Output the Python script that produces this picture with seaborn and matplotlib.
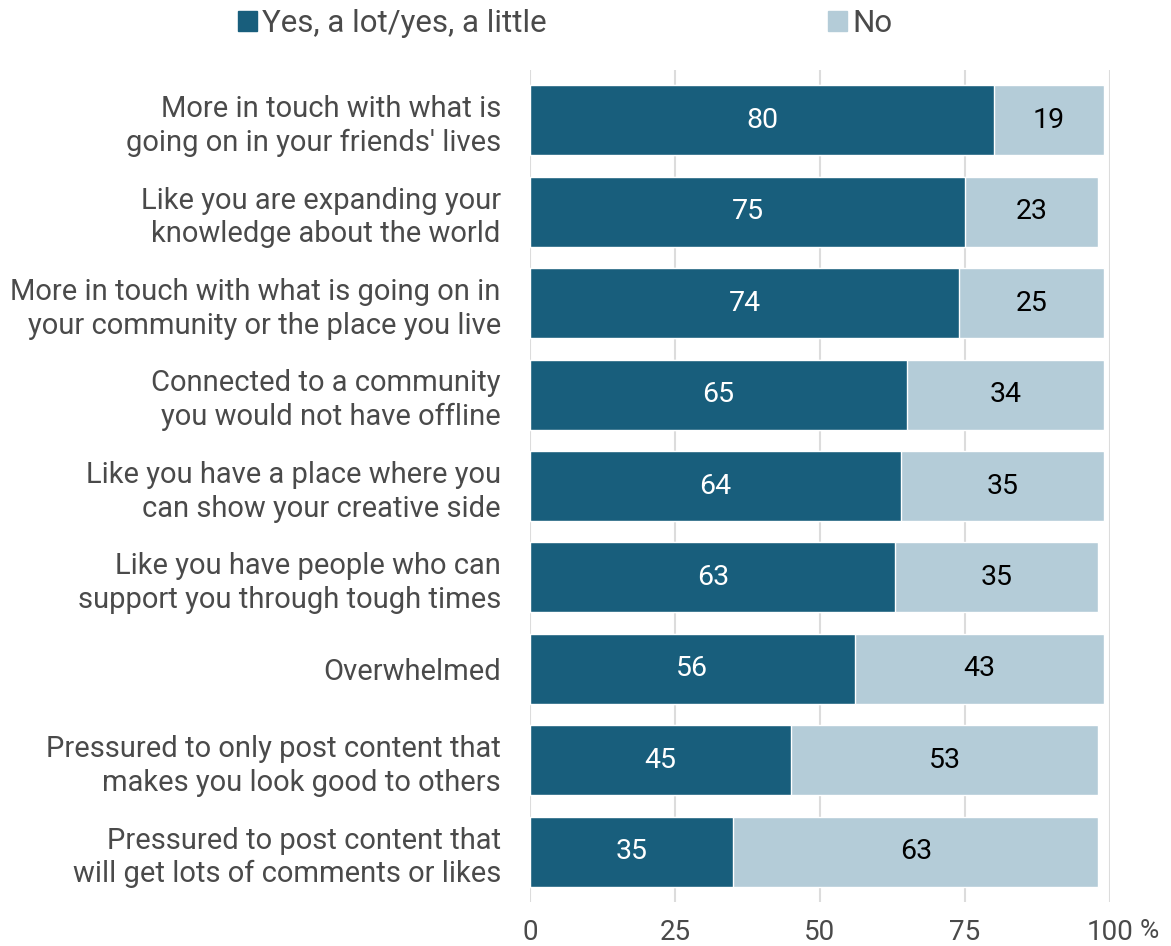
import matplotlib
matplotlib.use("Agg")
import matplotlib.pyplot as plt
import seaborn as sns
import pandas as pd
from matplotlib.patches import Patch

categories = [
    "More in touch with what is\ngoing on in your friends' lives",
    "Like you are expanding your\nknowledge about the world",
    "More in touch with what is going on in\nyour community or the place you live",
    "Connected to a community\nyou would not have offline",
    "Like you have a place where you\ncan show your creative side",
    "Like you have people who can\nsupport you through tough times",
    "Overwhelmed",
    "Pressured to only post content that\nmakes you look good to others",
    "Pressured to post content that\nwill get lots of comments or likes",
]
yes_vals = [80, 75, 74, 65, 64, 63, 56, 45, 35]
no_vals = [19, 23, 25, 34, 35, 35, 43, 53, 63]
series_names = ["Yes, a lot/yes, a little", "No"]
x_ticks = [0, 25, 50, 75, 100]

DARK = "#185e7c"
LIGHT = "#b4ccd8"
TEXT = "#4a4a4a"

sns.set_style("white")
plt.rcParams["font.family"] = ["Roboto", "DejaVu Sans"]

df = pd.DataFrame({"cat": categories, "yes": yes_vals, "no": no_vals})
df["total"] = df["yes"] + df["no"]

fig = plt.figure(figsize=(11.71, 9.46), dpi=100)
ax = fig.add_axes([0.4526, 0.0465, 0.4953, 0.8795])

sns.barplot(data=df, y="cat", x="total", color=LIGHT, orient="h",
            width=0.765, ax=ax, saturation=1, zorder=3)
sns.barplot(data=df, y="cat", x="yes", color=DARK, orient="h",
            width=0.765, ax=ax, saturation=1, zorder=4)

for i, (y, n) in enumerate(zip(yes_vals, no_vals)):
    ax.text(y / 2, i, str(y), ha="center", va="center", color="white",
            fontsize=20.5, zorder=5)
    ax.text(y + n / 2, i, str(n), ha="center", va="center", color="black",
            fontsize=20.5, zorder=5)

ax.set_xlim(0, 100)
ax.set_ylim(len(categories) - 0.45, -0.55)
ax.set_xticks(x_ticks)
ax.set_xticklabels([str(t) for t in x_ticks])
ax.annotate("%", xy=(100, 0), xycoords=("data", "axes fraction"),
            xytext=(28, -12), textcoords="offset points",
            ha="center", va="top", fontsize=19, color=TEXT)
ax.tick_params(axis="x", length=0, pad=12, labelsize=20, labelcolor=TEXT)
ax.tick_params(axis="y", length=0, pad=21, labelsize=21, labelcolor=TEXT)
ax.set_xlabel("")
ax.set_ylabel("")
for lab in ax.get_yticklabels():
    lab.set_multialignment("right")
    lab.set_linespacing(1.25)
ax.grid(axis="x", color="#dcdcdc", linewidth=1.5, zorder=0)
ax.grid(axis="y", visible=False)
for s in ax.spines.values():
    s.set_visible(False)

handles = [Patch(color=DARK), Patch(color=LIGHT)]
fig.legend(handles, series_names, loc="upper center", ncol=2,
           bbox_to_anchor=(0.4825, 1.02), frameon=False, fontsize=22.5,
           handlelength=0.62, handleheight=0.62, handletextpad=0.15,
           columnspacing=9.0, labelcolor=TEXT)

fig.savefig("out.png", dpi=100)
